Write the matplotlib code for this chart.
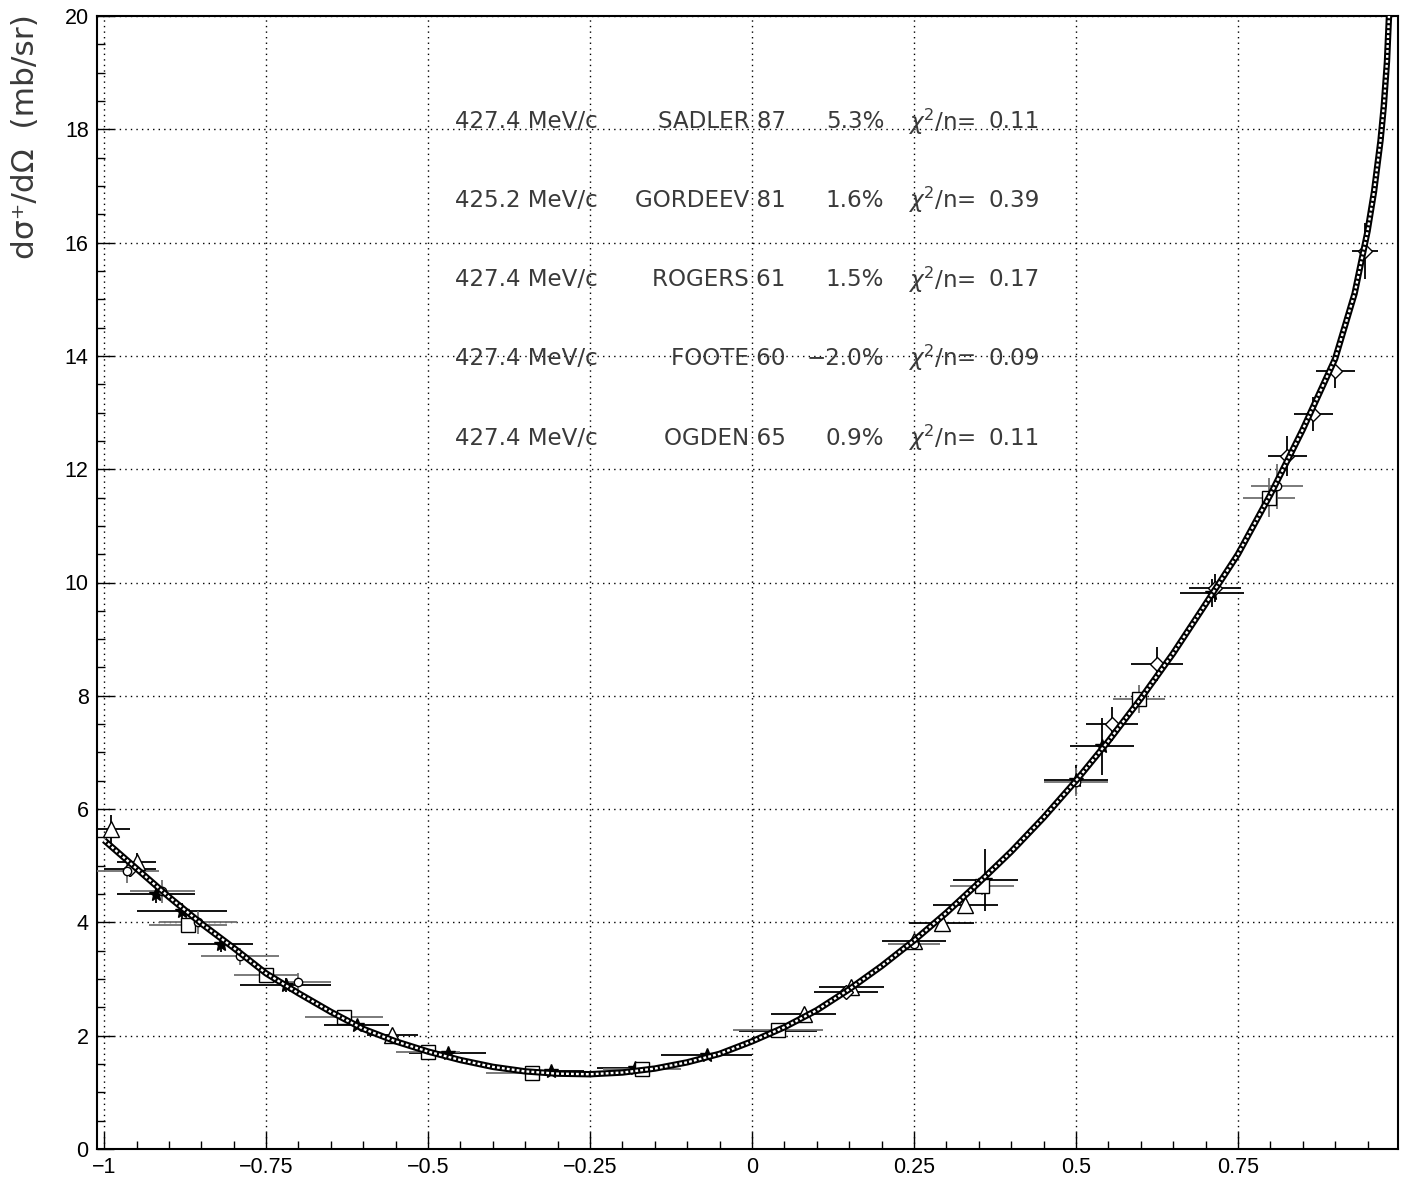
import matplotlib
matplotlib.use("Agg")
import matplotlib.pyplot as plt
from matplotlib.ticker import MultipleLocator, FixedLocator

plt.rcParams['font.family'] = ['Liberation Sans', 'DejaVu Sans']
plt.rcParams['mathtext.fontset'] = 'dejavusans'

# ---------------- data ----------------
fit_x = [-1.0, -0.95, -0.9, -0.85, -0.8, -0.75, -0.7, -0.65, -0.6, -0.55, -0.5, -0.45,
         -0.4, -0.35, -0.3, -0.25, -0.2, -0.15, -0.1, -0.05, 0.0, 0.05, 0.1, 0.15, 0.2,
         0.25, 0.3, 0.35, 0.4, 0.45, 0.5, 0.55, 0.6, 0.65, 0.7, 0.75, 0.8, 0.85, 0.9,
         0.93, 0.95, 0.96, 0.97, 0.975, 0.98, 0.985]
fit_y = [5.45, 4.95, 4.45, 3.98, 3.55, 3.10, 2.75, 2.42, 2.12, 1.90, 1.72, 1.57,
         1.45, 1.37, 1.33, 1.32, 1.35, 1.42, 1.53, 1.68, 1.90, 2.15, 2.45, 2.82, 3.23,
         3.68, 4.17, 4.70, 5.25, 5.85, 6.50, 7.20, 7.95, 8.75, 9.62, 10.50, 11.55, 12.70, 13.95,
         15.10, 16.20, 16.90, 17.80, 18.40, 19.20, 20.50]

# SADLER 87 (stars)
sad_x = [-0.92, -0.88, -0.82, -0.72, -0.61, -0.47, -0.31, -0.18, -0.07, 0.04, 0.36, 0.50, 0.54, 0.71]
sad_y = [4.50, 4.20, 3.62, 2.90, 2.19, 1.69, 1.38, 1.43, 1.66, 2.08, 4.75, 6.52, 7.11, 9.82]
sad_xe = [0.06, 0.07, 0.05, 0.07, 0.05, 0.06, 0.05, 0.06, 0.07, 0.06, 0.05, 0.05, 0.05, 0.05]
sad_ye = [0.15, 0.15, 0.15, 0.12, 0.08, 0.06, 0.05, 0.06, 0.06, 0.08, 0.55, 0.25, 0.50, 0.25]

# GORDEEV 81 (open squares)
gor_x = [-0.87, -0.75, -0.63, -0.50, -0.34, -0.17, 0.04, 0.355, 0.597, 0.798]
gor_y = [3.95, 3.07, 2.33, 1.71, 1.34, 1.41, 2.10, 4.64, 7.94, 11.50]
gor_xe = [0.06, 0.05, 0.06, 0.05, 0.07, 0.06, 0.07, 0.05, 0.04, 0.04]
gor_ye = [0.12, 0.10, 0.08, 0.05, 0.05, 0.05, 0.08, 0.15, 0.25, 0.35]

# ROGERS 61 (open triangles)
rog_x = [-0.99, -0.95, -0.555, 0.08, 0.153, 0.25, 0.293, 0.329]
rog_y = [5.65, 5.07, 2.01, 2.38, 2.86, 3.67, 3.99, 4.31]
rog_xe = [0.03, 0.03, 0.04, 0.05, 0.05, 0.05, 0.05, 0.05]
rog_ye = [0.25, 0.15, 0.06, 0.06, 0.08, 0.10, 0.10, 0.10]

# FOOTE 60 (open diamonds)
foo_x = [-0.96, 0.145, 0.556, 0.625, 0.715, 0.826, 0.866, 0.90, 0.946]
foo_y = [4.95, 2.78, 7.50, 8.56, 9.90, 12.23, 12.97, 13.73, 15.85]
foo_xe = [0.04, 0.05, 0.04, 0.04, 0.04, 0.03, 0.03, 0.03, 0.02]
foo_ye = [0.15, 0.08, 0.30, 0.30, 0.25, 0.35, 0.30, 0.30, 0.50]

# OGDEN 65 (crosses)
ogd_x = [-0.965, -0.91, -0.855, -0.79, -0.70, 0.25, 0.50, 0.81]
ogd_y = [4.90, 4.55, 4.00, 3.40, 2.95, 3.62, 6.48, 11.70]
ogd_xe = [0.05, 0.05, 0.06, 0.06, 0.05, 0.04, 0.05, 0.04]
ogd_ye = [0.20, 0.20, 0.20, 0.15, 0.15, 0.10, 0.25, 0.40]

mom = ["427.4", "425.2", "427.4", "427.4", "427.4"]
names = ["SADLER 87", "GORDEEV 81", "ROGERS 61", "FOOTE 60", "OGDEN 65"]
norms = ["5.3%", "1.6%", "1.5%", "\u22122.0%", "0.9%"]
chis = ["0.11", "0.39", "0.17", "0.09", "0.11"]
text_y = [18.13, 16.75, 15.34, 13.96, 12.55]

xticks = [-1, -0.75, -0.5, -0.25, 0, 0.25, 0.5, 0.75, 1]
xticklabels = ["\u22121", "\u22120.75", "\u22120.5", "\u22120.25", "0", "0.25", "0.5", "0.75", "1"]
yticks = [0, 2, 4, 6, 8, 10, 12, 14, 16, 18, 20]

# ---------------- figure ----------------
fig = plt.figure(figsize=(14.19, 11.89), dpi=100)
ax = fig.add_axes([97/1419, 1 - 1149/1189, (1398-97)/1419, (1149-16)/1189])
ax.set_xlim(-1.011, 0.997)
ax.set_ylim(0, 20)

ax.grid(True, which='major', color='black', linestyle=(0, (1, 3)), linewidth=1.0)
ax.set_axisbelow(True)

grey = '#707070'
common = dict(capsize=0, elinewidth=1.3, linestyle='none', zorder=3)
ax.errorbar(sad_x, sad_y, xerr=sad_xe, yerr=sad_ye, fmt='*', color='black', ms=10, mfc='black', ecolor='black', **common)
ax.errorbar(gor_x, gor_y, xerr=gor_xe, yerr=gor_ye, fmt='s', color='black', ms=10, mfc='white', mew=1.0, ecolor=grey, **common)
ax.errorbar(rog_x, rog_y, xerr=rog_xe, yerr=rog_ye, fmt='^', color='black', ms=11, mfc='white', mew=1.0, ecolor='black', **common)
ax.errorbar(foo_x, foo_y, xerr=foo_xe, yerr=foo_ye, fmt='D', color='black', ms=7, mfc='white', mew=1.0, ecolor='black', **common)
ax.errorbar(ogd_x, ogd_y, xerr=ogd_xe, yerr=ogd_ye, fmt='o', color='black', ms=6, mfc='white', mew=1.0, ecolor=grey, **common)

# fit curve drawn as a hatched band
ax.plot(fit_x, fit_y, color='black', lw=4.6, zorder=4, solid_capstyle='butt')
ax.plot(fit_x, fit_y, color='white', lw=1.7, zorder=5, linestyle=(0, (1.2, 0.9)))

# text block
tk = dict(fontsize=16.6, va='center', color='#3a3a3a', family='DejaVu Sans')
for i in range(5):
    y = text_y[i]
    ax.text(-0.458, y, f"{mom[i]} MeV/c", ha='left', **tk)
    ax.text(0.052, y, names[i], ha='right', **tk)
    ax.text(0.204, y, norms[i], ha='right', **tk)
    ax.text(0.241, y, r"$\chi^2$/n=", ha='left', **tk)
    ax.text(0.444, y, chis[i], ha='right', **tk)

ax.xaxis.set_major_locator(FixedLocator(xticks))
ax.set_xticklabels(xticklabels)
ax.xaxis.set_minor_locator(MultipleLocator(0.05))
ax.yaxis.set_major_locator(FixedLocator(yticks))
ax.yaxis.set_minor_locator(MultipleLocator(0.5))
ax.tick_params(which='both', direction='in', top=False, right=False, labelsize=15.5, colors='black')
ax.tick_params(which='major', length=12, width=1.0, pad=6)
ax.tick_params(which='minor', length=6, width=1.0)
for s in ax.spines.values():
    s.set_linewidth(1.5)

fig.text(26/1419, 1 - 14/1189, "d\u03c3\u207a/d\u03a9  (mb/sr)", rotation=90, ha='center', va='top',
         fontsize=22.5, family='DejaVu Sans', color='#3a3a3a')

fig.savefig("out.png", dpi=100)
